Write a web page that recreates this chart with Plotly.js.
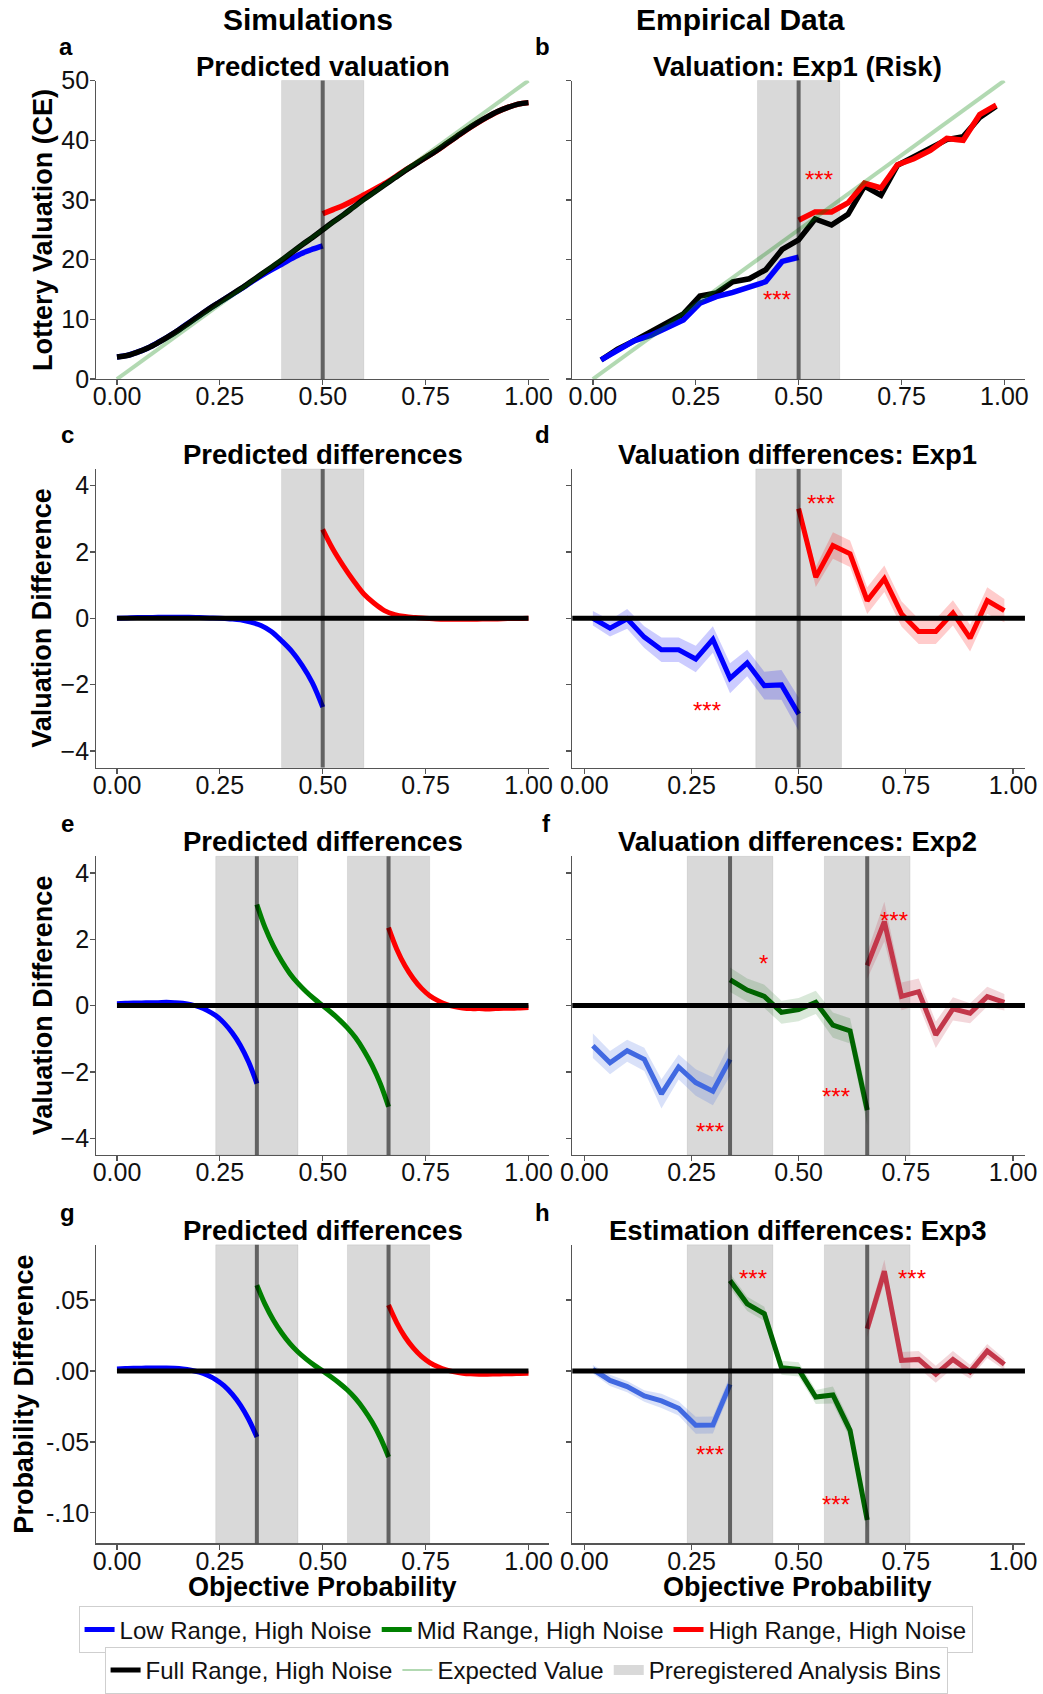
<!DOCTYPE html>
<html><head><meta charset="utf-8">
<script src="https://cdn.plot.ly/plotly-3.0.1.min.js"></script>
<style>html,body{margin:0;padding:0;background:#fff}</style>
</head><body><div id="chart" style="width:1043px;height:1694px"></div>
<script>
// ---------------- DATA ----------------
const xTickVals = [0, 0.25, 0.5, 0.75, 1];
const xTickText = ['0.00', '0.25', '0.50', '0.75', '1.00'];

// Expected value line
const evX = [0, 1];
const evY = [0, 50];

// Simulation grid (panel a / c)
const simX = [0,0.025,0.05,0.075,0.1,0.125,0.15,0.175,0.2,0.225,0.25,0.275,0.3,0.325,0.35,0.375,0.4,0.425,0.45,0.475,0.5,
              0.525,0.55,0.575,0.6,0.625,0.65,0.675,0.7,0.725,0.75,0.775,0.8,0.825,0.85,0.875,0.9,0.925,0.95,0.975,1];
const simLowX = [0,0.025,0.05,0.075,0.1,0.125,0.15,0.175,0.2,0.225,0.25,0.275,0.3,0.325,0.35,0.375,0.4,0.425,0.45,0.475,0.5];
const simHighX = [0.5,0.525,0.55,0.575,0.6,0.625,0.65,0.675,0.7,0.725,0.75,0.775,0.8,0.825,0.85,0.875,0.9,0.925,0.95,0.975,1];

// Panel a: predicted valuation
const fullA = [3.7,3.95,4.5,5.2,6.1,7.1,8.2,9.4,10.6,11.8,12.9,14.0,15.1,16.3,17.5,18.7,19.9,21.2,22.5,23.7,25.0,
               26.3,27.5,28.8,30.1,31.3,32.5,33.7,34.9,36.0,37.1,38.2,39.4,40.6,41.8,42.9,43.9,44.8,45.5,46.05,46.3];
const lowA = [3.7,3.96,4.52,5.22,6.13,7.13,8.23,9.43,10.62,11.81,12.9,13.98,15.05,16.18,17.28,18.3,19.22,20.2,21.08,21.75,22.32];
const highA = [27.68,28.38,29.08,29.93,30.83,31.75,32.73,33.81,34.95,36.02,37.1,38.18,39.37,40.57,41.77,42.87,43.88,44.78,45.49,46.04,46.3];

// Panel c: predicted differences (Exp1)
const fullDiffX = [0, 1];
const fullDiffY = [0, 0];
const lowC = [0,0.01,0.02,0.02,0.03,0.03,0.03,0.03,0.02,0.01,0,-0.02,-0.05,-0.12,-0.22,-0.4,-0.68,-1.0,-1.42,-1.95,-2.68];
const highC = [2.68,2.08,1.58,1.13,0.73,0.45,0.23,0.11,0.05,0.02,0,-0.02,-0.03,-0.03,-0.03,-0.03,-0.02,-0.02,-0.01,-0.01,0];

// Simulation grid for three ranges (panels e / g)
const simLowX2 = [0,0.02,0.04,0.06,0.08,0.1,0.12,0.14,0.16,0.18,0.2,0.22,0.24,0.26,0.28,0.3,0.32,0.34];
const simMidX2 = [0.34,0.36,0.38,0.4,0.42,0.44,0.46,0.48,0.5,0.52,0.54,0.56,0.58,0.6,0.62,0.64,0.66];
const simHighX2 = [0.66,0.68,0.7,0.72,0.74,0.76,0.78,0.8,0.82,0.84,0.86,0.88,0.9,0.92,0.94,0.96,0.98,1.0];

const lowE = [0.06,0.07,0.08,0.08,0.09,0.09,0.1,0.09,0.07,0.03,-0.04,-0.15,-0.3,-0.52,-0.82,-1.2,-1.7,-2.35];
const midE = [3.05,2.35,1.8,1.35,0.97,0.67,0.42,0.2,0,-0.2,-0.42,-0.67,-0.97,-1.35,-1.8,-2.35,-3.05];
const highE = [2.35,1.7,1.2,0.82,0.52,0.3,0.15,0.04,-0.03,-0.07,-0.09,-0.09,-0.1,-0.09,-0.08,-0.08,-0.07,-0.06];

const lowG = [0.0015,0.0017,0.0019,0.002,0.0021,0.0022,0.0022,0.002,0.0015,0.0006,-0.0008,-0.003,-0.006,-0.0103,-0.0163,-0.024,-0.034,-0.0465];
const midG = [0.0606,0.047,0.036,0.027,0.0195,0.0134,0.0084,0.004,0,-0.004,-0.0084,-0.0134,-0.0195,-0.027,-0.036,-0.047,-0.0606];
const highG = [0.0465,0.034,0.024,0.0163,0.0103,0.006,0.003,0.0008,-0.0006,-0.0015,-0.002,-0.0022,-0.0022,-0.0021,-0.002,-0.0019,-0.0017,-0.0015];

// Empirical, Exp1
const expFullX = [0.02,0.06,0.1,0.14,0.18,0.22,0.26,0.3,0.34,0.38,0.42,0.46,0.5,0.54,0.58,0.62,0.66,0.7,0.74,0.78,0.82,0.86,0.9,0.94,0.98];
const expLowX = [0.02,0.06,0.1,0.14,0.18,0.22,0.26,0.3,0.34,0.38,0.42,0.46,0.5];
const expHighX = [0.5,0.54,0.58,0.62,0.66,0.7,0.74,0.78,0.82,0.86,0.9,0.94,0.98];

const fullB = [3.2,5.0,6.4,7.9,9.4,10.9,13.9,14.4,16.3,16.8,18.3,21.7,23.3,26.8,25.8,27.6,32.3,30.8,35.8,37.3,38.7,40.1,40.6,43.8,45.7];
const lowB = [3.2,4.7,6.4,7.3,8.5,9.9,12.7,13.8,14.5,15.5,16.3,19.7,20.4];
const lowBci = [0.3,0.35,0.35,0.4,0.4,0.4,0.45,0.45,0.45,0.45,0.5,0.5,0.55];
const highB = [26.6,28.0,28.0,29.5,32.8,32.0,35.9,36.9,38.3,40.3,40.0,44.3,45.9];
const highBci = [0.3,0.45,0.5,0.5,0.5,0.5,0.5,0.45,0.45,0.45,0.5,0.5,0.45];

const lowD = [0,-0.3,-0.02,-0.57,-0.95,-0.95,-1.23,-0.64,-1.81,-1.35,-2.03,-2.01,-2.89];
const lowDci = [0.22,0.25,0.3,0.33,0.37,0.37,0.4,0.4,0.45,0.4,0.42,0.45,0.5];
const highD = [3.3,1.24,2.19,1.94,0.53,1.19,0.13,-0.40,-0.40,0.16,-0.60,0.53,0.23];
const highDci = [0.2,0.3,0.4,0.4,0.4,0.4,0.38,0.38,0.38,0.38,0.4,0.4,0.35];

// Empirical, Exp2 / Exp3
const expLowX2 = [0.02,0.06,0.1,0.14,0.18,0.22,0.26,0.3,0.34];
const expMidX2 = [0.34,0.38,0.42,0.46,0.5,0.54,0.58,0.62,0.66];
const expHighX2 = [0.66,0.7,0.74,0.78,0.82,0.86,0.9,0.94,0.98];

const lowF = [-1.21,-1.72,-1.36,-1.62,-2.66,-1.85,-2.32,-2.58,-1.62];
const lowFci = [0.37,0.35,0.33,0.35,0.44,0.38,0.4,0.42,0.5];
const midF = [0.78,0.47,0.28,-0.2,-0.12,0.1,-0.59,-0.76,-3.15];
const midFci = [0.37,0.35,0.35,0.35,0.35,0.35,0.38,0.38,0.45];
const highF = [1.21,2.53,0.28,0.42,-0.88,-0.1,-0.23,0.27,0.1];
const highFci = [0.4,0.6,0.42,0.4,0.4,0.35,0.3,0.3,0.25];

const lowH = [0.0012,-0.0066,-0.011,-0.0176,-0.0211,-0.0263,-0.0383,-0.038,-0.0094];
const lowHci = [0.003,0.004,0.004,0.004,0.005,0.005,0.006,0.006,0.006];
const midH = [0.0638,0.0474,0.0404,0.0023,0.0012,-0.0183,-0.0169,-0.0418,-0.105];
const midHci = [0.005,0.005,0.005,0.005,0.005,0.005,0.006,0.006,0.008];
const highH = [0.0298,0.0704,0.0075,0.0082,-0.0023,0.0082,-0.0005,0.0141,0.0047];
const highHci = [0.006,0.008,0.006,0.006,0.006,0.006,0.005,0.005,0.004];

// Analysis bins
const bins1 = [[0.4, 0.6]];
const binCenters1 = [0.5];
const bins2 = [[0.24, 0.44], [0.56, 0.76]];
const binCenters2 = [0.34, 0.66];

// Significance stars [x, y, text]
const starsB = [[0.55, 34.3, '***'], [0.448, 14.2, '***']];
const starsD = [[0.552, 3.6, '***'], [0.287, -2.62, '***']];
const starsF = [[0.723, 2.73, '***'], [0.419, 1.41, '*'], [0.587, -2.6, '***'], [0.293, -3.64, '***']];
const starsH = [[0.393, 0.0685, '***'], [0.764, 0.0685, '***'], [0.293, -0.0556, '***'], [0.587, -0.0904, '***']];

// Legend labels
const legendRow1 = ['Low Range, High Noise', 'Mid Range, High Noise', 'High Range, High Noise'];
const legendRow2 = ['Full Range, High Noise', 'Expected Value', 'Preregistered Analysis Bins'];

// ---------------- STYLE ----------------
const FONT = 'Arial, "Liberation Sans", sans-serif';
const BLUE = '#0000ff', RED = '#ff0000', GREEN = '#008000', BLACK = '#000000';
const BLUE2 = '#4169e1', RED2 = '#c3374a', GREEN2 = '#006400';
const EVCOL = 'rgba(0,128,0,0.3)';
const BINCOL = '#d9d9d9';
const SIMW = 5.5, EMPW = 5;

function sfx(p) { return p === 1 ? '' : String(p); }
function line(p, x, y, color, width, shape) {
  return {type: 'scatter', mode: 'lines', x: x, y: y, xaxis: 'x' + sfx(p), yaxis: 'y' + sfx(p),
    line: {color: color, width: width, shape: shape || 'linear', smoothing: 1}, showlegend: false, hoverinfo: 'skip'};
}
function band(p, x, y, ci, fill) {
  const xs = x.concat(x.slice().reverse());
  const ys = y.map((v, i) => v + ci[i]).concat(y.map((v, i) => v - ci[i]).reverse());
  return {type: 'scatter', mode: 'lines', x: xs, y: ys, xaxis: 'x' + sfx(p), yaxis: 'y' + sfx(p),
    fill: 'toself', fillcolor: fill, line: {width: 0, color: 'rgba(0,0,0,0)'}, showlegend: false, hoverinfo: 'skip'};
}
function rgba(hex, a) {
  const r = parseInt(hex.slice(1, 3), 16), g = parseInt(hex.slice(3, 5), 16), b = parseInt(hex.slice(5, 7), 16);
  return 'rgba(' + r + ',' + g + ',' + b + ',' + a + ')';
}

const traces = [];
// Panel a
traces.push(line(1, simLowX, lowA, BLUE, SIMW, 'spline'));
traces.push(line(1, simHighX, highA, RED, SIMW, 'spline'));
traces.push(line(1, simX, fullA, BLACK, SIMW, 'spline'));
traces.push(line(1, evX, evY, EVCOL, 4));
// Panel b
traces.push(line(2, expFullX, fullB, BLACK, SIMW));
traces.push(band(2, expLowX, lowB, lowBci, rgba(BLUE, 0.15)));
traces.push(line(2, expLowX, lowB, BLUE, SIMW));
traces.push(band(2, expHighX, highB, highBci, rgba(RED, 0.15)));
traces.push(line(2, expHighX, highB, RED, SIMW));
traces.push(line(2, evX, evY, EVCOL, 4));
// Panel c
traces.push(line(3, simLowX, lowC, BLUE, EMPW, 'spline'));
traces.push(line(3, simHighX, highC, RED, EMPW, 'spline'));
traces.push(line(3, fullDiffX, fullDiffY, BLACK, EMPW));
// Panel d
traces.push(band(4, expLowX, lowD, lowDci, rgba(BLUE, 0.2)));
traces.push(line(4, expLowX, lowD, BLUE, EMPW));
traces.push(band(4, expHighX, highD, highDci, rgba(RED, 0.2)));
traces.push(line(4, expHighX, highD, RED, EMPW));
// Panel e
traces.push(line(5, simLowX2, lowE, BLUE, EMPW, 'spline'));
traces.push(line(5, simMidX2, midE, GREEN, EMPW, 'spline'));
traces.push(line(5, simHighX2, highE, RED, EMPW, 'spline'));
traces.push(line(5, fullDiffX, fullDiffY, BLACK, EMPW));
// Panel f
traces.push(band(6, expLowX2, lowF, lowFci, rgba(BLUE2, 0.2)));
traces.push(line(6, expLowX2, lowF, BLUE2, EMPW));
traces.push(band(6, expMidX2, midF, midFci, rgba(GREEN2, 0.15)));
traces.push(line(6, expMidX2, midF, GREEN2, EMPW));
traces.push(band(6, expHighX2, highF, highFci, rgba(RED2, 0.2)));
traces.push(line(6, expHighX2, highF, RED2, EMPW));
// Panel g
traces.push(line(7, simLowX2, lowG, BLUE, EMPW, 'spline'));
traces.push(line(7, simMidX2, midG, GREEN, EMPW, 'spline'));
traces.push(line(7, simHighX2, highG, RED, EMPW, 'spline'));
traces.push(line(7, fullDiffX, fullDiffY, BLACK, EMPW));
// Panel h
traces.push(band(8, expLowX2, lowH, lowHci, rgba(BLUE2, 0.2)));
traces.push(line(8, expLowX2, lowH, BLUE2, EMPW));
traces.push(band(8, expMidX2, midH, midHci, rgba(GREEN2, 0.15)));
traces.push(line(8, expMidX2, midH, GREEN2, EMPW));
traces.push(band(8, expHighX2, highH, highHci, rgba(RED2, 0.2)));
traces.push(line(8, expHighX2, highH, RED2, EMPW));

// Legend-only traces
const legendColors1 = [BLUE, GREEN, RED];
legendRow1.forEach((name, i) => traces.push({type: 'scatter', mode: 'lines', x: [null], y: [null], name: name,
  line: {color: legendColors1[i], width: 5}, legend: 'legend', showlegend: true, hoverinfo: 'skip'}));
const legendColors2 = [BLACK, 'rgba(0,128,0,0.3)', BINCOL];
const legendWidths2 = [5, 2, 10];
legendRow2.forEach((name, i) => traces.push({type: 'scatter', mode: 'lines', x: [null], y: [null], name: name,
  line: {color: legendColors2[i], width: legendWidths2[i]}, legend: 'legend2', showlegend: true, hoverinfo: 'skip'}));

// ---------------- LAYOUT ----------------
const colL = [0.0924, 0.5264], colR = [0.5487, 0.9827];
const rows = [[0.77491, 0.95218], [0.54422, 0.72155], [0.31417, 0.49150], [0.08353, 0.26080]];
const xRangeSim = [-0.05, 1.05];
const xRangeEmp = [-0.028, 1.028];

const axBase = {showline: true, linecolor: '#555', linewidth: 1.3, ticks: 'outside', ticklen: 5, tickwidth: 1.3,
  tickcolor: '#555', tickfont: {family: FONT, size: 25, color: '#111'}, showgrid: false, zeroline: false, fixedrange: true};

const layout = {width: 1043, height: 1694, margin: {l: 0, r: 0, t: 0, b: 0}, paper_bgcolor: '#fff', plot_bgcolor: 'rgba(0,0,0,0)',
  font: {family: FONT, color: '#111'}, showlegend: true, shapes: [], annotations: []};

const yCfg = [
  {range: [0, 50], tickvals: [0, 10, 20, 30, 40, 50], ticktext: ['0', '10', '20', '30', '40', '50']},
  {range: [-4.5, 4.5], tickvals: [-4, -2, 0, 2, 4], ticktext: ['\u22124', '\u22122', '0', '2', '4']},
  {range: [-4.5, 4.5], tickvals: [-4, -2, 0, 2, 4], ticktext: ['\u22124', '\u22122', '0', '2', '4']},
  {range: [-0.1215, 0.089], tickvals: [-0.1, -0.05, 0, 0.05], ticktext: ['-.10', '-.05', '.00', '.05']}
];
const xRanges = [xRangeSim, xRangeSim, xRangeSim, xRangeEmp, xRangeSim, xRangeEmp, xRangeSim, xRangeEmp];

for (let p = 1; p <= 8; p++) {
  const r = Math.floor((p - 1) / 2), left = (p % 2 === 1);
  layout['xaxis' + sfx(p)] = Object.assign({}, axBase, {domain: left ? colL : colR, range: xRanges[p - 1],
    anchor: 'y' + sfx(p), tickvals: xTickVals, ticktext: xTickText, ticklabelstandoff: -10});
  layout['yaxis' + sfx(p)] = Object.assign({}, axBase, {domain: rows[r], anchor: 'x' + sfx(p),
    range: yCfg[r].range, tickvals: yCfg[r].tickvals, ticktext: yCfg[r].ticktext, showticklabels: left, ticklabelstandoff: -4});
}

// Bins
function addBins(p, bins) {
  bins.forEach(b => layout.shapes.push({type: 'rect', xref: 'x' + sfx(p), yref: 'y' + sfx(p) + ' domain',
    x0: b[0], x1: b[1], y0: 0, y1: 1, fillcolor: BINCOL, line: {color: 'rgba(0,0,0,0.07)', width: 1}, layer: 'below'}));
}
function addCenters(p, centers) {
  centers.forEach(c => layout.shapes.push({type: 'line', xref: 'x' + sfx(p), yref: 'y' + sfx(p) + ' domain',
    x0: c, x1: c, y0: 0, y1: 1, line: {color: 'rgba(0,0,0,0.55)', width: 4}, layer: 'above'}));
}
function addZero(p) {
  layout.shapes.push({type: 'line', xref: 'x' + sfx(p) + ' domain', yref: 'y' + sfx(p),
    x0: 0, x1: 1, y0: 0, y1: 0, line: {color: BLACK, width: 5}, layer: 'above'});
}
[1, 2, 3, 4].forEach(p => addBins(p, bins1));
[5, 6, 7, 8].forEach(p => addBins(p, bins2));
[4, 6, 8].forEach(p => addZero(p));
[1, 2, 3, 4].forEach(p => addCenters(p, binCenters1));
[5, 6, 7, 8].forEach(p => addCenters(p, binCenters2));

// Text annotations
function txt(x, y, text, size, bold, extra) {
  layout.annotations.push(Object.assign({xref: 'paper', yref: 'paper', x: x, y: y, text: bold ? '<b>' + text + '</b>' : text,
    showarrow: false, xanchor: 'center', yanchor: 'middle', font: {family: FONT, size: size, color: '#000'}}, extra || {}));
}
txt(0.2953, 0.9882, 'Simulations', 30, true);
txt(0.7095, 0.9882, 'Empirical Data', 30, true);

const panelTitles = ['Predicted valuation', 'Valuation: Exp1 (Risk)', 'Predicted differences', 'Valuation differences: Exp1',
  'Predicted differences', 'Valuation differences: Exp2', 'Predicted differences', 'Estimation differences: Exp3'];
const titleY = [0.96051, 0.73040, 0.50035, 0.26913];
panelTitles.forEach((t, i) => txt(i % 2 === 0 ? 0.3095 : 0.7651, titleY[Math.floor(i / 2)], t, 27.5, true));

const letters = ['a', 'b', 'c', 'd', 'e', 'f', 'g', 'h'];
const letterX = [0.0637, 0.5204, 0.0648, 0.5204, 0.0643, 0.5235, 0.0643, 0.5204];
const letterY = [0.97255, 0.97255, 0.74227, 0.74227, 0.51104, 0.51104, 0.27981, 0.27981];
letters.forEach((l, i) => txt(letterX[i], letterY[i], l, 24, true));

txt(0.0413, 0.86352, 'Lottery Valuation (CE)', 27, true, {textangle: -90});
txt(0.0408, 0.63288, 'Valuation Difference', 27, true, {textangle: -90});
txt(0.0408, 0.40284, 'Valuation Difference', 27, true, {textangle: -90});
txt(0.0235, 0.17214, 'Probability Difference', 27, true, {textangle: -90});
txt(0.3095, 0.05756, 'Objective Probability', 27, true);
txt(0.7651, 0.05756, 'Objective Probability', 27, true);

function addStars(p, stars) {
  stars.forEach(s => layout.annotations.push({xref: 'x' + sfx(p), yref: 'y' + sfx(p), x: s[0], y: s[1], text: s[2],
    showarrow: false, xanchor: 'center', yanchor: 'middle', yshift: -5, font: {family: FONT, size: 24, color: '#ff0000'}}));
}
addStars(2, starsB); addStars(4, starsD); addStars(6, starsF); addStars(8, starsH);

// Legends
const legBase = {orientation: 'h', xanchor: 'center', yanchor: 'top', bordercolor: '#cfcfcf', borderwidth: 1,
  bgcolor: '#fff', font: {family: FONT, size: 24, color: '#111'}, traceorder: 'normal'};
layout.legend = Object.assign({}, legBase, {x: 0.5039, y: 0.04604});
layout.legend2 = Object.assign({}, legBase, {x: 0.5044, y: 0.02184});

Plotly.newPlot('chart', traces, layout, {staticPlot: true, displayModeBar: false});
</script></body></html>
